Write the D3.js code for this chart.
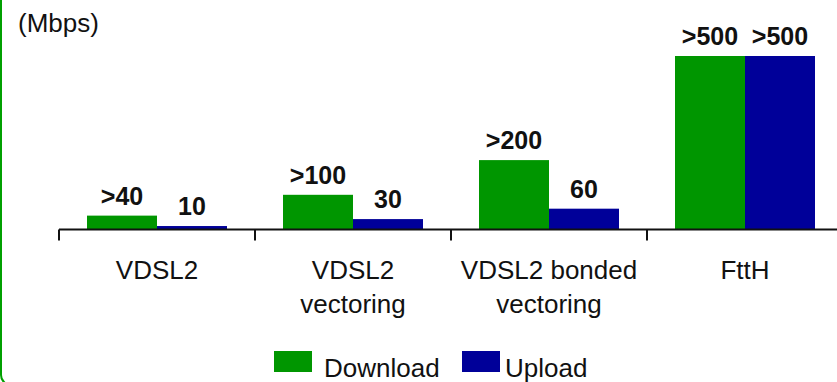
<!DOCTYPE html>
<html>
<head>
<meta charset="utf-8">
<script src="https://cdn.jsdelivr.net/npm/d3@7"></script>
<style>
  html, body { margin: 0; padding: 0; background: #fff; }
  svg { display: block; font-family: "Liberation Sans", Arial, sans-serif; }
</style>
</head>
<body>
<svg id="chart" width="837" height="382"></svg>
<script>
// Access technologies and their peak speeds (Mbps)
const categories = ["VDSL2", "VDSL2 vectoring", "VDSL2 bonded vectoring", "FttH"];
const categoryLines = [["VDSL2"], ["VDSL2", "vectoring"], ["VDSL2 bonded", "vectoring"], ["FttH"]];
const series = ["Download", "Upload"];
const downloadValues = [40, 100, 200, 500];
const uploadValues = [10, 30, 60, 500];
const downloadLabels = [">40", ">100", ">200", ">500"];
const uploadLabels = ["10", "30", "60", ">500"];
const unitLabel = "(Mbps)";

const colors = { Download: "#009600", Upload: "#000099" };

const rows = categories.map((c, i) => ({
  category: c,
  lines: categoryLines[i],
  bars: [
    { key: "Download", value: downloadValues[i], label: downloadLabels[i] },
    { key: "Upload", value: uploadValues[i], label: uploadLabels[i] }
  ]
}));

const svg = d3.select("#chart");

// Rounded frame, only its left side and bottom-left corner fall inside the view
svg.append("rect")
  .attr("x", 1).attr("y", -30)
  .attr("width", 900).attr("height", 415)
  .attr("rx", 10).attr("ry", 10)
  .attr("fill", "none")
  .attr("stroke", "#00a000")
  .attr("stroke-width", 2);

const baseY = 229.5;
const x = d3.scaleBand().domain(categories).range([59, 843]).paddingInner(0).paddingOuter(0);
const xSub = d3.scaleBand().domain(series).range([28, x.bandwidth() - 28]);
const y = d3.scaleLinear().domain([0, 500]).range([baseY, 56]);

// Unit label
svg.append("text")
  .attr("x", 18).attr("y", 32)
  .attr("font-size", 26)
  .attr("fill", "#111")
  .text(unitLabel);

// Bars
const groups = svg.append("g").selectAll("g")
  .data(rows).join("g")
  .attr("transform", d => `translate(${x(d.category)},0)`);

groups.selectAll("rect")
  .data(d => d.bars).join("rect")
  .attr("x", d => xSub(d.key))
  .attr("y", d => y(d.value))
  .attr("width", xSub.bandwidth())
  .attr("height", d => y(0) - y(d.value))
  .attr("fill", d => colors[d.key]);

groups.selectAll("text.value")
  .data(d => d.bars).join("text")
  .attr("class", "value")
  .attr("x", d => xSub(d.key) + xSub.bandwidth() / 2)
  .attr("y", d => y(d.value) - 11)
  .attr("text-anchor", "middle")
  .attr("font-size", 25)
  .attr("font-weight", "bold")
  .attr("fill", "#111")
  .text(d => d.label);

// Category axis with ticks on band boundaries
const axis = svg.append("g").attr("transform", `translate(0,${baseY})`);
axis.append("line")
  .attr("x1", 59).attr("x2", 843)
  .attr("stroke", "#111").attr("stroke-width", 2);
axis.selectAll("line.tick")
  .data(categories).join("line")
  .attr("class", "tick")
  .attr("x1", d => x(d)).attr("x2", d => x(d))
  .attr("y1", 0).attr("y2", 11)
  .attr("stroke", "#111").attr("stroke-width", 2);

const catLabels = svg.append("g").selectAll("text")
  .data(rows).join("text")
  .attr("x", d => x(d.category) + x.bandwidth() / 2)
  .attr("y", 279)
  .attr("text-anchor", "middle")
  .attr("font-size", 26)
  .attr("fill", "#111");
catLabels.selectAll("tspan")
  .data(d => d.lines).join("tspan")
  .attr("x", function() { return this.parentNode.getAttribute("x"); })
  .attr("dy", (d, i) => i === 0 ? 0 : 34)
  .text(d => d);

// Legend
const legendPos = [{ key: "Download", rx: 274, tx: 324 }, { key: "Upload", rx: 462, tx: 505 }];
const legend = svg.append("g").selectAll("g").data(legendPos).join("g");
legend.append("rect")
  .attr("x", d => d.rx).attr("y", 351)
  .attr("width", 38).attr("height", 21)
  .attr("fill", d => colors[d.key]);
legend.append("text")
  .attr("x", d => d.tx).attr("y", 377)
  .attr("font-size", 26)
  .attr("fill", "#111")
  .text(d => d.key);
</script>
</body>
</html>
